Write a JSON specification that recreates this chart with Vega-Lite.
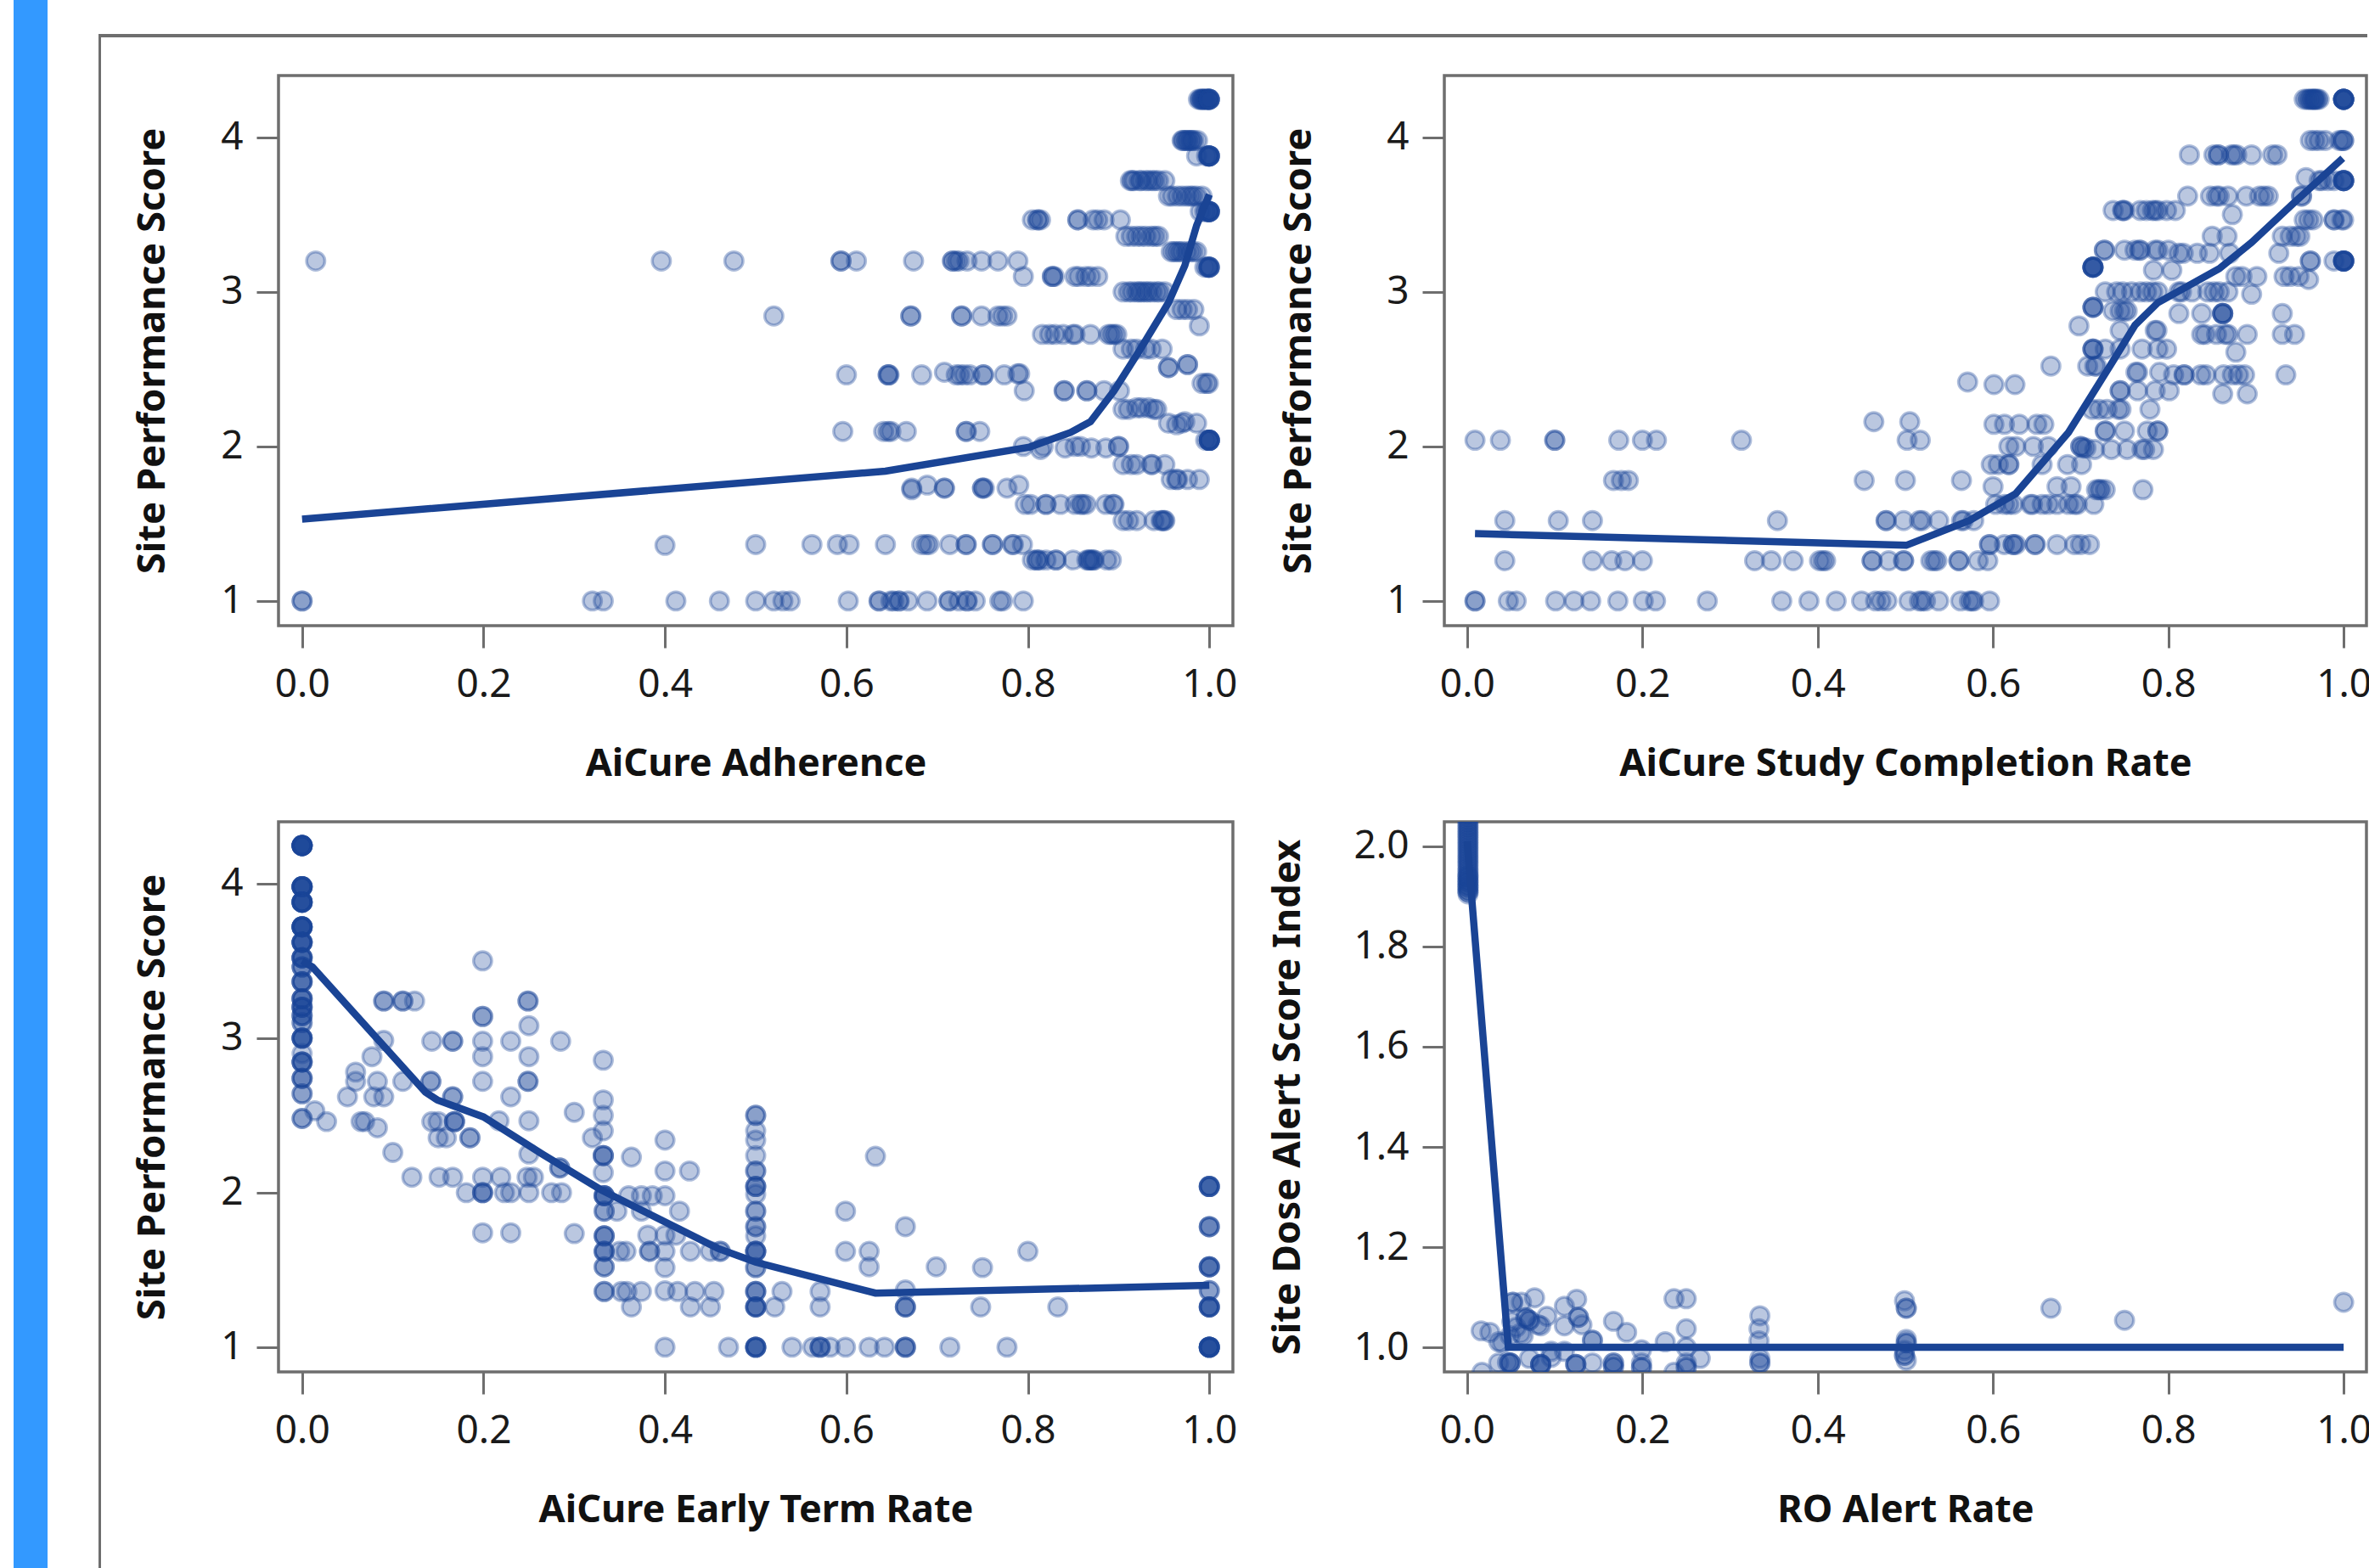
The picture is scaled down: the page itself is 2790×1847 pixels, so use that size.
{"$schema":"https://vega.github.io/schema/vega-lite/v6.json","padding":0,"background":"white","spacing":0,
"config":{"view":{"stroke":"#6e6e6e","strokeWidth":3.5},"font":"Noto Sans",
"axis":{"grid":false,"domain":false,"tickColor":"#6e6e6e","tickWidth":3,"tickSize":26,"labelFont":"Noto Sans","labelFontSize":46,"labelColor":"#1a1a1a","titleFont":"Noto Sans","titleFontWeight":"bold","titleColor":"#111111"}},
"datasets":{
"a":[{"x":0.988,"y":4.246},{"x":0.99,"y":4.246},{"x":0.991,"y":4.246},{"x":0.992,"y":4.246},{"x":0.993,"y":4.246},{"x":0.994,"y":4.246},{"x":0.995,"y":4.246},{"x":0.996,"y":4.246},{"x":0.997,"y":4.246},{"x":0.998,"y":4.246},{"x":0.999,"y":4.246},{"x":1,"y":4.246},{"x":1,"y":4.246},{"x":1,"y":4.246},{"x":1,"y":4.246},{"x":1,"y":4.246},
{"x":0.97,"y":3.98},{"x":0.971,"y":3.98},{"x":0.973,"y":3.98},{"x":0.975,"y":3.98},{"x":0.976,"y":3.98},{"x":0.978,"y":3.98},{"x":0.98,"y":3.98},{"x":0.981,"y":3.98},{"x":0.983,"y":3.98},{"x":0.987,"y":3.98},
{"x":0.986,"y":3.88},{"x":0.997,"y":3.88},{"x":0.999,"y":3.88},{"x":1,"y":3.88},{"x":1,"y":3.88},{"x":1,"y":3.88},{"x":1,"y":3.88},{"x":1,"y":3.88},{"x":1,"y":3.88},
{"x":0.913,"y":3.72},{"x":0.915,"y":3.72},{"x":0.917,"y":3.72},{"x":0.923,"y":3.72},{"x":0.925,"y":3.72},{"x":0.93,"y":3.72},{"x":0.933,"y":3.72},{"x":0.937,"y":3.72},{"x":0.94,"y":3.72},{"x":0.944,"y":3.72},{"x":0.951,"y":3.72},
{"x":0.955,"y":3.62},{"x":0.959,"y":3.62},{"x":0.965,"y":3.62},{"x":0.97,"y":3.62},{"x":0.975,"y":3.62},{"x":0.979,"y":3.62},{"x":0.982,"y":3.62},{"x":0.986,"y":3.62},{"x":0.992,"y":3.62},
{"x":0.99,"y":3.52},{"x":0.995,"y":3.52},{"x":0.997,"y":3.52},{"x":0.999,"y":3.52},{"x":1,"y":3.52},{"x":1,"y":3.52},{"x":1,"y":3.52},{"x":1,"y":3.52},{"x":1,"y":3.52},{"x":1,"y":3.52},
{"x":0.805,"y":3.466},{"x":0.811,"y":3.466},{"x":0.811,"y":3.466},{"x":0.814,"y":3.466},{"x":0.855,"y":3.466},{"x":0.855,"y":3.466},{"x":0.872,"y":3.466},{"x":0.877,"y":3.466},{"x":0.884,"y":3.466},{"x":0.902,"y":3.466},
{"x":0.908,"y":3.36},{"x":0.914,"y":3.36},{"x":0.92,"y":3.36},{"x":0.925,"y":3.36},{"x":0.93,"y":3.36},{"x":0.936,"y":3.36},{"x":0.94,"y":3.36},{"x":0.944,"y":3.36},
{"x":0.958,"y":3.26},{"x":0.961,"y":3.26},{"x":0.964,"y":3.26},{"x":0.967,"y":3.26},{"x":0.97,"y":3.26},{"x":0.975,"y":3.26},{"x":0.979,"y":3.26},{"x":0.982,"y":3.26},{"x":0.986,"y":3.26},
{"x":0.015,"y":3.2},{"x":0.396,"y":3.2},{"x":0.476,"y":3.2},{"x":0.594,"y":3.2},{"x":0.594,"y":3.2},{"x":0.611,"y":3.2},{"x":0.674,"y":3.2},{"x":0.717,"y":3.2},{"x":0.717,"y":3.2},{"x":0.721,"y":3.2},{"x":0.724,"y":3.2},{"x":0.733,"y":3.2},{"x":0.749,"y":3.2},{"x":0.767,"y":3.2},{"x":0.789,"y":3.2},
{"x":0.995,"y":3.16},{"x":0.998,"y":3.16},{"x":0.999,"y":3.16},{"x":1,"y":3.16},{"x":1,"y":3.16},{"x":1,"y":3.16},{"x":1,"y":3.16},
{"x":0.795,"y":3.1},{"x":0.827,"y":3.1},{"x":0.827,"y":3.1},{"x":0.829,"y":3.1},{"x":0.852,"y":3.1},{"x":0.856,"y":3.1},{"x":0.864,"y":3.1},{"x":0.869,"y":3.1},{"x":0.877,"y":3.1},
{"x":0.905,"y":3},{"x":0.911,"y":3},{"x":0.915,"y":3},{"x":0.92,"y":3},{"x":0.923,"y":3},{"x":0.926,"y":3},{"x":0.93,"y":3},{"x":0.933,"y":3},{"x":0.937,"y":3},{"x":0.942,"y":3},{"x":0.945,"y":3},{"x":0.951,"y":3},
{"x":0.964,"y":2.886},{"x":0.97,"y":2.886},{"x":0.976,"y":2.886},{"x":0.983,"y":2.886},
{"x":0.52,"y":2.844},{"x":0.671,"y":2.844},{"x":0.671,"y":2.844},{"x":0.727,"y":2.844},{"x":0.727,"y":2.844},{"x":0.749,"y":2.844},{"x":0.767,"y":2.844},{"x":0.772,"y":2.844},{"x":0.777,"y":2.844},
{"x":0.989,"y":2.78},
{"x":0.816,"y":2.725},{"x":0.824,"y":2.725},{"x":0.83,"y":2.725},{"x":0.839,"y":2.725},{"x":0.85,"y":2.725},{"x":0.852,"y":2.725},{"x":0.869,"y":2.725},{"x":0.889,"y":2.725},{"x":0.892,"y":2.725},{"x":0.895,"y":2.725},{"x":0.898,"y":2.725},
{"x":0.905,"y":2.63},{"x":0.914,"y":2.63},{"x":0.92,"y":2.63},{"x":0.93,"y":2.63},{"x":0.936,"y":2.63},{"x":0.948,"y":2.63},
{"x":0.955,"y":2.51},{"x":0.955,"y":2.51},{"x":0.976,"y":2.53},{"x":0.976,"y":2.53},
{"x":0.6,"y":2.463},{"x":0.646,"y":2.463},{"x":0.646,"y":2.463},{"x":0.647,"y":2.463},{"x":0.683,"y":2.463},{"x":0.708,"y":2.48},{"x":0.721,"y":2.463},{"x":0.725,"y":2.463},{"x":0.73,"y":2.463},{"x":0.736,"y":2.463},{"x":0.751,"y":2.463},{"x":0.751,"y":2.463},{"x":0.774,"y":2.463},{"x":0.789,"y":2.47},{"x":0.791,"y":2.47},
{"x":0.992,"y":2.408},{"x":0.997,"y":2.408},{"x":0.999,"y":2.408},
{"x":0.796,"y":2.36},{"x":0.84,"y":2.36},{"x":0.84,"y":2.36},{"x":0.865,"y":2.36},{"x":0.865,"y":2.36},{"x":0.884,"y":2.36},{"x":0.901,"y":2.36},
{"x":0.905,"y":2.24},{"x":0.911,"y":2.24},{"x":0.92,"y":2.25},{"x":0.925,"y":2.25},{"x":0.933,"y":2.25},{"x":0.939,"y":2.24},{"x":0.942,"y":2.24},
{"x":0.955,"y":2.15},{"x":0.964,"y":2.14},{"x":0.97,"y":2.15},{"x":0.973,"y":2.16},{"x":0.986,"y":2.15},
{"x":0.596,"y":2.097},{"x":0.641,"y":2.097},{"x":0.646,"y":2.097},{"x":0.649,"y":2.097},{"x":0.666,"y":2.097},{"x":0.732,"y":2.097},{"x":0.732,"y":2.097},{"x":0.747,"y":2.097},
{"x":0.996,"y":2.04},{"x":1,"y":2.04},{"x":1,"y":2.04},{"x":1,"y":2.04},{"x":1,"y":2.04},{"x":1,"y":2.04},{"x":1,"y":2.04},{"x":1,"y":2.04},
{"x":0.795,"y":2},{"x":0.814,"y":1.98},{"x":0.817,"y":2},{"x":0.841,"y":1.99},{"x":0.852,"y":2},{"x":0.858,"y":2},{"x":0.87,"y":1.99},{"x":0.886,"y":1.99},{"x":0.9,"y":2},{"x":0.9,"y":2},
{"x":0.905,"y":1.883},{"x":0.914,"y":1.883},{"x":0.92,"y":1.883},{"x":0.936,"y":1.883},{"x":0.937,"y":1.883},{"x":0.951,"y":1.883},
{"x":0.958,"y":1.786},{"x":0.964,"y":1.786},{"x":0.965,"y":1.786},{"x":0.976,"y":1.786},{"x":0.989,"y":1.786},
{"x":0.672,"y":1.73},{"x":0.672,"y":1.72},{"x":0.689,"y":1.75},{"x":0.708,"y":1.73},{"x":0.708,"y":1.73},{"x":0.75,"y":1.73},{"x":0.75,"y":1.73},{"x":0.752,"y":1.73},{"x":0.777,"y":1.73},{"x":0.79,"y":1.75},
{"x":0.797,"y":1.625},{"x":0.803,"y":1.625},{"x":0.82,"y":1.625},{"x":0.82,"y":1.625},{"x":0.836,"y":1.625},{"x":0.852,"y":1.625},{"x":0.858,"y":1.625},{"x":0.86,"y":1.625},{"x":0.864,"y":1.625},{"x":0.886,"y":1.625},{"x":0.894,"y":1.625},{"x":0.895,"y":1.625},
{"x":0.905,"y":1.52},{"x":0.911,"y":1.52},{"x":0.92,"y":1.52},{"x":0.939,"y":1.52},{"x":0.947,"y":1.52},{"x":0.948,"y":1.52},{"x":0.95,"y":1.52},{"x":0.951,"y":1.52},
{"x":0.4,"y":1.36},{"x":0.5,"y":1.365},{"x":0.562,"y":1.365},{"x":0.59,"y":1.365},{"x":0.603,"y":1.365},{"x":0.643,"y":1.365},{"x":0.683,"y":1.365},{"x":0.688,"y":1.365},{"x":0.691,"y":1.365},{"x":0.714,"y":1.365},{"x":0.732,"y":1.365},{"x":0.732,"y":1.365},{"x":0.761,"y":1.365},{"x":0.761,"y":1.365},{"x":0.783,"y":1.365},{"x":0.784,"y":1.365},{"x":0.794,"y":1.365},
{"x":0.805,"y":1.265},{"x":0.81,"y":1.265},{"x":0.81,"y":1.265},{"x":0.813,"y":1.265},{"x":0.82,"y":1.265},{"x":0.831,"y":1.265},{"x":0.831,"y":1.265},{"x":0.85,"y":1.265},{"x":0.865,"y":1.265},{"x":0.867,"y":1.265},{"x":0.868,"y":1.265},{"x":0.87,"y":1.265},{"x":0.872,"y":1.265},{"x":0.873,"y":1.265},{"x":0.887,"y":1.265},{"x":0.892,"y":1.265},
{"x":0,"y":1},{"x":0,"y":1},{"x":0.32,"y":1},{"x":0.332,"y":1},{"x":0.412,"y":1},{"x":0.46,"y":1},{"x":0.5,"y":1},{"x":0.52,"y":1},{"x":0.53,"y":1},{"x":0.538,"y":1},{"x":0.602,"y":1},{"x":0.636,"y":1},{"x":0.636,"y":1},{"x":0.649,"y":1},{"x":0.652,"y":1},{"x":0.658,"y":1},{"x":0.658,"y":1},{"x":0.668,"y":1},{"x":0.689,"y":1},{"x":0.713,"y":1},{"x":0.713,"y":1},{"x":0.724,"y":1},{"x":0.733,"y":1},{"x":0.733,"y":1},{"x":0.742,"y":1},{"x":0.769,"y":1},{"x":0.772,"y":1},{"x":0.795,"y":1}],
"af":[{"x":0,"y":1.53},{"x":0.643,"y":1.84},{"x":0.802,"y":1.996},{"x":0.847,"y":2.09},{"x":0.869,"y":2.16},{"x":0.895,"y":2.36},{"x":0.923,"y":2.62},{"x":0.955,"y":2.93},{"x":0.973,"y":3.17},{"x":0.986,"y":3.43},{"x":1,"y":3.63}],
"b":[{"x":0.955,"y":4.246},{"x":0.958,"y":4.246},{"x":0.96,"y":4.246},{"x":0.962,"y":4.246},{"x":0.963,"y":4.246},{"x":0.965,"y":4.246},{"x":0.966,"y":4.246},{"x":0.967,"y":4.246},{"x":0.968,"y":4.246},{"x":0.97,"y":4.246},{"x":0.972,"y":4.246},{"x":1,"y":4.246},{"x":1,"y":4.246},{"x":1,"y":4.246},{"x":1,"y":4.246},{"x":1,"y":4.246},{"x":1,"y":4.246},{"x":1,"y":4.246},{"x":1,"y":4.246},
{"x":0.962,"y":3.98},{"x":0.967,"y":3.98},{"x":0.972,"y":3.98},{"x":0.979,"y":3.98},{"x":0.995,"y":3.98},{"x":0.998,"y":3.98},{"x":1,"y":3.98},{"x":1,"y":3.98},
{"x":0.824,"y":3.887},{"x":0.852,"y":3.887},{"x":0.857,"y":3.887},{"x":0.857,"y":3.887},{"x":0.872,"y":3.887},{"x":0.875,"y":3.887},{"x":0.878,"y":3.887},{"x":0.895,"y":3.887},{"x":0.919,"y":3.887},{"x":0.924,"y":3.887},
{"x":0.957,"y":3.74},{"x":0.972,"y":3.72},{"x":0.975,"y":3.72},{"x":0.982,"y":3.72},{"x":0.989,"y":3.72},{"x":1,"y":3.72},{"x":1,"y":3.72},{"x":1,"y":3.72},{"x":1,"y":3.72},{"x":1,"y":3.72},{"x":1,"y":3.72},
{"x":0.822,"y":3.62},{"x":0.848,"y":3.62},{"x":0.855,"y":3.62},{"x":0.858,"y":3.62},{"x":0.868,"y":3.62},{"x":0.889,"y":3.62},{"x":0.904,"y":3.62},{"x":0.909,"y":3.62},{"x":0.914,"y":3.62},{"x":0.952,"y":3.62},{"x":0.952,"y":3.62},
{"x":0.737,"y":3.527},{"x":0.748,"y":3.527},{"x":0.748,"y":3.527},{"x":0.75,"y":3.527},{"x":0.768,"y":3.527},{"x":0.775,"y":3.527},{"x":0.782,"y":3.527},{"x":0.785,"y":3.527},{"x":0.788,"y":3.527},{"x":0.798,"y":3.527},{"x":0.808,"y":3.527},
{"x":0.873,"y":3.5},
{"x":0.955,"y":3.466},{"x":0.96,"y":3.466},{"x":0.965,"y":3.466},{"x":0.989,"y":3.466},{"x":0.989,"y":3.466},{"x":0.998,"y":3.466},{"x":1,"y":3.466},
{"x":0.85,"y":3.36},{"x":0.867,"y":3.36},{"x":0.93,"y":3.36},{"x":0.939,"y":3.36},{"x":0.946,"y":3.36},{"x":0.95,"y":3.36},
{"x":0.727,"y":3.27},{"x":0.727,"y":3.27},{"x":0.75,"y":3.27},{"x":0.762,"y":3.27},{"x":0.767,"y":3.27},{"x":0.768,"y":3.27},{"x":0.785,"y":3.27},{"x":0.788,"y":3.27},{"x":0.8,"y":3.27},{"x":0.812,"y":3.25},{"x":0.817,"y":3.25},
{"x":0.833,"y":3.25},{"x":0.847,"y":3.25},{"x":0.87,"y":3.25},{"x":0.926,"y":3.25},
{"x":0.962,"y":3.2},{"x":0.962,"y":3.2},{"x":0.989,"y":3.2},{"x":1,"y":3.2},{"x":1,"y":3.2},{"x":1,"y":3.2},{"x":1,"y":3.2},{"x":1,"y":3.2},{"x":1,"y":3.2},{"x":1,"y":3.2},
{"x":0.714,"y":3.16},{"x":0.714,"y":3.16},{"x":0.714,"y":3.16},{"x":0.714,"y":3.16},{"x":0.714,"y":3.16},{"x":0.714,"y":3.16},
{"x":0.783,"y":3.14},{"x":0.804,"y":3.14},
{"x":0.877,"y":3.1},{"x":0.884,"y":3.1},{"x":0.901,"y":3.1},{"x":0.932,"y":3.1},{"x":0.939,"y":3.1},{"x":0.949,"y":3.1},{"x":0.96,"y":3.08},
{"x":0.728,"y":3},{"x":0.741,"y":3},{"x":0.748,"y":3},{"x":0.758,"y":3},{"x":0.768,"y":3},{"x":0.775,"y":3},{"x":0.782,"y":3},{"x":0.788,"y":3},{"x":0.812,"y":3},{"x":0.815,"y":3},{"x":0.827,"y":3},{"x":0.845,"y":3},{"x":0.852,"y":3},{"x":0.858,"y":3},{"x":0.868,"y":3},{"x":0.895,"y":2.985},
{"x":0.714,"y":2.9},{"x":0.714,"y":2.9},{"x":0.714,"y":2.9},
{"x":0.737,"y":2.877},{"x":0.745,"y":2.877},{"x":0.75,"y":2.877},{"x":0.753,"y":2.877},
{"x":0.812,"y":2.86},{"x":0.838,"y":2.86},{"x":0.862,"y":2.86},{"x":0.862,"y":2.86},{"x":0.862,"y":2.86},{"x":0.862,"y":2.86},{"x":0.93,"y":2.86},
{"x":0.698,"y":2.78},{"x":0.745,"y":2.75},{"x":0.785,"y":2.75},{"x":0.787,"y":2.75},
{"x":0.838,"y":2.725},{"x":0.842,"y":2.725},{"x":0.855,"y":2.725},{"x":0.865,"y":2.725},{"x":0.868,"y":2.725},{"x":0.89,"y":2.725},{"x":0.93,"y":2.725},{"x":0.944,"y":2.725},
{"x":0.714,"y":2.63},{"x":0.714,"y":2.63},{"x":0.714,"y":2.63},{"x":0.728,"y":2.63},{"x":0.745,"y":2.63},{"x":0.77,"y":2.63},{"x":0.788,"y":2.63},{"x":0.798,"y":2.63},{"x":0.877,"y":2.61},
{"x":0.666,"y":2.52},{"x":0.708,"y":2.52},{"x":0.716,"y":2.52},{"x":0.718,"y":2.52},
{"x":0.763,"y":2.48},{"x":0.765,"y":2.48},{"x":0.79,"y":2.48},
{"x":0.806,"y":2.463},{"x":0.818,"y":2.463},{"x":0.818,"y":2.463},{"x":0.837,"y":2.463},{"x":0.843,"y":2.463},{"x":0.863,"y":2.463},{"x":0.873,"y":2.463},{"x":0.88,"y":2.463},{"x":0.887,"y":2.463},{"x":0.934,"y":2.463},
{"x":0.571,"y":2.417},{"x":0.601,"y":2.4},{"x":0.625,"y":2.4},
{"x":0.745,"y":2.36},{"x":0.745,"y":2.36},{"x":0.765,"y":2.36},{"x":0.785,"y":2.36},{"x":0.801,"y":2.36},{"x":0.862,"y":2.34},{"x":0.89,"y":2.34},
{"x":0.713,"y":2.24},{"x":0.721,"y":2.24},{"x":0.73,"y":2.24},{"x":0.743,"y":2.24},{"x":0.746,"y":2.24},{"x":0.779,"y":2.24},
{"x":0.464,"y":2.16},{"x":0.505,"y":2.16},
{"x":0.601,"y":2.143},{"x":0.613,"y":2.143},{"x":0.63,"y":2.143},{"x":0.65,"y":2.143},{"x":0.658,"y":2.143},
{"x":0.728,"y":2.1},{"x":0.728,"y":2.1},{"x":0.75,"y":2.1},{"x":0.776,"y":2.1},{"x":0.788,"y":2.1},{"x":0.788,"y":2.1},
{"x":0.009,"y":2.04},{"x":0.038,"y":2.04},{"x":0.1,"y":2.04},{"x":0.1,"y":2.04},{"x":0.173,"y":2.04},{"x":0.2,"y":2.04},{"x":0.216,"y":2.04},{"x":0.313,"y":2.04},{"x":0.502,"y":2.04},{"x":0.517,"y":2.04},
{"x":0.618,"y":2},{"x":0.626,"y":2},{"x":0.646,"y":2},{"x":0.663,"y":2},
{"x":0.7,"y":2},{"x":0.7,"y":2},{"x":0.703,"y":1.99},{"x":0.706,"y":1.99},{"x":0.716,"y":1.98},{"x":0.735,"y":1.98},{"x":0.753,"y":1.98},{"x":0.77,"y":1.98},{"x":0.773,"y":1.98},{"x":0.783,"y":1.98},
{"x":0.598,"y":1.883},{"x":0.606,"y":1.883},{"x":0.618,"y":1.883},{"x":0.618,"y":1.883},{"x":0.656,"y":1.883},{"x":0.685,"y":1.883},{"x":0.701,"y":1.883},
{"x":0.167,"y":1.78},{"x":0.176,"y":1.78},{"x":0.184,"y":1.78},{"x":0.453,"y":1.78},{"x":0.5,"y":1.78},{"x":0.564,"y":1.78},
{"x":0.6,"y":1.74},{"x":0.673,"y":1.74},{"x":0.689,"y":1.74},
{"x":0.718,"y":1.72},{"x":0.721,"y":1.72},{"x":0.723,"y":1.72},{"x":0.728,"y":1.72},{"x":0.771,"y":1.72},
{"x":0.603,"y":1.625},{"x":0.613,"y":1.625},{"x":0.618,"y":1.625},{"x":0.623,"y":1.625},{"x":0.643,"y":1.625},{"x":0.645,"y":1.625},{"x":0.656,"y":1.625},{"x":0.663,"y":1.625},{"x":0.673,"y":1.625},{"x":0.686,"y":1.625},{"x":0.693,"y":1.625},{"x":0.696,"y":1.625},{"x":0.715,"y":1.625},
{"x":0.043,"y":1.52},{"x":0.104,"y":1.52},{"x":0.143,"y":1.52},{"x":0.354,"y":1.52},{"x":0.478,"y":1.52},{"x":0.478,"y":1.52},{"x":0.498,"y":1.52},{"x":0.516,"y":1.52},{"x":0.519,"y":1.52},{"x":0.538,"y":1.52},{"x":0.564,"y":1.52},{"x":0.566,"y":1.52},{"x":0.578,"y":1.52},
{"x":0.596,"y":1.365},{"x":0.596,"y":1.365},{"x":0.613,"y":1.365},{"x":0.623,"y":1.365},{"x":0.623,"y":1.365},{"x":0.626,"y":1.365},{"x":0.648,"y":1.365},{"x":0.648,"y":1.365},{"x":0.673,"y":1.365},{"x":0.693,"y":1.365},{"x":0.7,"y":1.365},{"x":0.71,"y":1.365},
{"x":0.043,"y":1.26},{"x":0.143,"y":1.26},{"x":0.165,"y":1.26},{"x":0.18,"y":1.26},{"x":0.2,"y":1.26},{"x":0.328,"y":1.26},{"x":0.347,"y":1.26},{"x":0.372,"y":1.26},{"x":0.402,"y":1.26},{"x":0.406,"y":1.26},{"x":0.409,"y":1.26},{"x":0.462,"y":1.26},{"x":0.462,"y":1.26},{"x":0.481,"y":1.26},{"x":0.498,"y":1.26},{"x":0.498,"y":1.26},{"x":0.529,"y":1.26},{"x":0.533,"y":1.26},{"x":0.536,"y":1.26},{"x":0.561,"y":1.26},{"x":0.561,"y":1.26},{"x":0.583,"y":1.26},{"x":0.594,"y":1.26},
{"x":0.009,"y":1},{"x":0.009,"y":1},{"x":0.047,"y":1},{"x":0.056,"y":1},{"x":0.101,"y":1},{"x":0.122,"y":1},{"x":0.141,"y":1},{"x":0.172,"y":1},{"x":0.201,"y":1},{"x":0.215,"y":1},{"x":0.274,"y":1},{"x":0.359,"y":1},{"x":0.39,"y":1},{"x":0.421,"y":1},{"x":0.45,"y":1},{"x":0.466,"y":1},{"x":0.472,"y":1},{"x":0.479,"y":1},{"x":0.504,"y":1},{"x":0.516,"y":1},{"x":0.519,"y":1},{"x":0.523,"y":1},{"x":0.538,"y":1},{"x":0.563,"y":1},{"x":0.573,"y":1},{"x":0.576,"y":1},{"x":0.578,"y":1},{"x":0.596,"y":1}],
"bf":[{"x":0.009,"y":1.436},{"x":0.501,"y":1.36},{"x":0.573,"y":1.52},{"x":0.626,"y":1.695},{"x":0.686,"y":2.09},{"x":0.736,"y":2.545},{"x":0.762,"y":2.785},{"x":0.788,"y":2.93},{"x":0.858,"y":3.15},{"x":0.895,"y":3.32},{"x":0.942,"y":3.57},{"x":0.999,"y":3.865}],
"c":[{"x":0,"y":4.246},{"x":0,"y":4.246},{"x":0,"y":4.246},{"x":0,"y":4.246},{"x":0,"y":4.246},{"x":0,"y":4.246},{"x":0,"y":4.246},{"x":0,"y":4.246},{"x":0,"y":4.246},{"x":0,"y":4.246},{"x":0,"y":3.98},{"x":0,"y":3.98},{"x":0,"y":3.98},{"x":0,"y":3.98},{"x":0,"y":3.98},{"x":0,"y":3.98},{"x":0,"y":3.98},{"x":0,"y":3.98},{"x":0,"y":3.88},{"x":0,"y":3.88},{"x":0,"y":3.88},{"x":0,"y":3.88},{"x":0,"y":3.88},{"x":0,"y":3.88},{"x":0,"y":3.88},{"x":0,"y":3.88},{"x":0,"y":3.72},{"x":0,"y":3.72},{"x":0,"y":3.72},{"x":0,"y":3.72},{"x":0,"y":3.72},{"x":0,"y":3.72},{"x":0,"y":3.72},{"x":0,"y":3.72},{"x":0,"y":3.62},{"x":0,"y":3.62},{"x":0,"y":3.62},{"x":0,"y":3.62},{"x":0,"y":3.62},{"x":0,"y":3.62},{"x":0,"y":3.52},{"x":0,"y":3.52},{"x":0,"y":3.52},{"x":0,"y":3.52},{"x":0,"y":3.52},{"x":0,"y":3.46},{"x":0,"y":3.46},{"x":0,"y":3.46},{"x":0,"y":3.365},{"x":0,"y":3.365},{"x":0,"y":3.365},{"x":0,"y":3.365},{"x":0,"y":3.255},{"x":0,"y":3.255},{"x":0,"y":3.255},{"x":0,"y":3.255},{"x":0,"y":3.2},{"x":0,"y":3.2},{"x":0,"y":3.2},{"x":0,"y":3.2},{"x":0,"y":3.145},{"x":0,"y":3.145},{"x":0,"y":3.145},{"x":0,"y":3.1},{"x":0,"y":3.1},{"x":0,"y":3},{"x":0,"y":3},{"x":0,"y":3},{"x":0,"y":3},{"x":0,"y":3},{"x":0,"y":2.9},{"x":0,"y":2.845},{"x":0,"y":2.845},{"x":0,"y":2.845},{"x":0,"y":2.845},{"x":0,"y":2.74},{"x":0,"y":2.74},{"x":0,"y":2.74},{"x":0,"y":2.64},{"x":0,"y":2.64},{"x":0,"y":2.48},{"x":0,"y":2.48},
{"x":0.199,"y":3.5},{"x":0.09,"y":3.24},{"x":0.09,"y":3.24},{"x":0.111,"y":3.24},{"x":0.111,"y":3.24},{"x":0.124,"y":3.24},{"x":0.249,"y":3.24},{"x":0.249,"y":3.24},{"x":0.199,"y":3.14},{"x":0.199,"y":3.14},{"x":0.25,"y":3.08},{"x":0.09,"y":2.985},{"x":0.143,"y":2.98},{"x":0.166,"y":2.98},{"x":0.166,"y":2.98},{"x":0.199,"y":2.98},{"x":0.23,"y":2.98},{"x":0.285,"y":2.98},{"x":0.077,"y":2.88},{"x":0.199,"y":2.88},{"x":0.25,"y":2.88},{"x":0.332,"y":2.857},{"x":0.059,"y":2.78},{"x":0.059,"y":2.72},{"x":0.083,"y":2.72},{"x":0.111,"y":2.72},{"x":0.142,"y":2.72},{"x":0.142,"y":2.72},{"x":0.199,"y":2.72},{"x":0.249,"y":2.72},{"x":0.249,"y":2.72},{"x":0.05,"y":2.62},{"x":0.079,"y":2.62},{"x":0.09,"y":2.62},{"x":0.166,"y":2.62},{"x":0.166,"y":2.62},{"x":0.23,"y":2.62},{"x":0.332,"y":2.6},
{"x":0.014,"y":2.53},{"x":0.027,"y":2.46},{"x":0.065,"y":2.46},{"x":0.069,"y":2.46},{"x":0.083,"y":2.42},{"x":0.1,"y":2.26},{"x":0.121,"y":2.1},{"x":0.143,"y":2.46},{"x":0.15,"y":2.46},{"x":0.168,"y":2.46},{"x":0.168,"y":2.46},{"x":0.168,"y":2.46},{"x":0.15,"y":2.355},{"x":0.159,"y":2.355},{"x":0.185,"y":2.355},{"x":0.185,"y":2.355},{"x":0.217,"y":2.465},{"x":0.25,"y":2.465},{"x":0.25,"y":2.25},{"x":0.3,"y":2.52},{"x":0.332,"y":2.5},{"x":0.332,"y":2.4},{"x":0.32,"y":2.355},{"x":0.332,"y":2.24},{"x":0.332,"y":2.24},{"x":0.332,"y":2.24},{"x":0.363,"y":2.23},{"x":0.4,"y":2.34},{"x":0.332,"y":2.13},{"x":0.4,"y":2.14},{"x":0.427,"y":2.14},{"x":0.284,"y":2.16},{"x":0.284,"y":2.16},{"x":0.151,"y":2.1},{"x":0.166,"y":2.1},{"x":0.199,"y":2.1},{"x":0.219,"y":2.1},{"x":0.248,"y":2.1},{"x":0.255,"y":2.1},
{"x":0.181,"y":2},{"x":0.199,"y":2},{"x":0.199,"y":2},{"x":0.199,"y":2},{"x":0.223,"y":2},{"x":0.23,"y":2},{"x":0.25,"y":2},{"x":0.275,"y":2},{"x":0.286,"y":2},{"x":0.199,"y":1.74},{"x":0.23,"y":1.74},{"x":0.3,"y":1.735},
{"x":0.333,"y":1.98},{"x":0.333,"y":1.98},{"x":0.333,"y":1.98},{"x":0.333,"y":1.98},{"x":0.36,"y":1.98},{"x":0.374,"y":1.98},{"x":0.386,"y":1.98},{"x":0.4,"y":1.98},{"x":0.333,"y":1.88},{"x":0.333,"y":1.88},{"x":0.347,"y":1.88},{"x":0.374,"y":1.88},{"x":0.416,"y":1.88},{"x":0.333,"y":1.72},{"x":0.333,"y":1.72},{"x":0.333,"y":1.72},{"x":0.381,"y":1.725},{"x":0.4,"y":1.725},{"x":0.412,"y":1.725},{"x":0.333,"y":1.62},{"x":0.333,"y":1.62},{"x":0.333,"y":1.62},{"x":0.35,"y":1.62},{"x":0.357,"y":1.62},{"x":0.383,"y":1.62},{"x":0.383,"y":1.62},{"x":0.4,"y":1.62},{"x":0.428,"y":1.62},{"x":0.45,"y":1.62},{"x":0.461,"y":1.62},{"x":0.461,"y":1.62},{"x":0.333,"y":1.52},{"x":0.333,"y":1.52},{"x":0.4,"y":1.515},{"x":0.333,"y":1.36},{"x":0.333,"y":1.36},{"x":0.352,"y":1.36},{"x":0.358,"y":1.36},{"x":0.374,"y":1.36},{"x":0.4,"y":1.365},{"x":0.414,"y":1.36},{"x":0.433,"y":1.36},{"x":0.454,"y":1.36},{"x":0.363,"y":1.26},{"x":0.428,"y":1.26},{"x":0.45,"y":1.26},
{"x":0.4,"y":1},{"x":0.47,"y":1},{"x":0.54,"y":1},{"x":0.563,"y":1},{"x":0.571,"y":1},{"x":0.571,"y":1},{"x":0.571,"y":1},{"x":0.582,"y":1},{"x":0.599,"y":1},{"x":0.625,"y":1},{"x":0.642,"y":1},{"x":0.665,"y":1},{"x":0.665,"y":1},{"x":0.665,"y":1},{"x":0.714,"y":1},{"x":0.777,"y":1},
{"x":0.5,"y":2.5},{"x":0.5,"y":2.5},{"x":0.5,"y":2.4},{"x":0.5,"y":2.34},{"x":0.5,"y":2.24},{"x":0.5,"y":2.14},{"x":0.5,"y":2.14},{"x":0.5,"y":2.04},{"x":0.5,"y":2.04},{"x":0.5,"y":2.04},{"x":0.5,"y":1.99},{"x":0.5,"y":1.88},{"x":0.5,"y":1.88},{"x":0.5,"y":1.78},{"x":0.5,"y":1.78},{"x":0.5,"y":1.72},{"x":0.5,"y":1.62},{"x":0.5,"y":1.62},{"x":0.5,"y":1.62},{"x":0.5,"y":1.62},{"x":0.5,"y":1.515},{"x":0.5,"y":1.515},{"x":0.5,"y":1.36},{"x":0.5,"y":1.36},{"x":0.5,"y":1.36},{"x":0.5,"y":1.26},{"x":0.5,"y":1.26},{"x":0.5,"y":1.26},{"x":0.5,"y":1.26},{"x":0.5,"y":1},{"x":0.5,"y":1},{"x":0.5,"y":1},{"x":0.5,"y":1},{"x":0.5,"y":1},
{"x":0.529,"y":1.36},{"x":0.521,"y":1.26},{"x":0.571,"y":1.36},{"x":0.571,"y":1.26},{"x":0.599,"y":1.88},{"x":0.599,"y":1.62},{"x":0.625,"y":1.62},{"x":0.625,"y":1.52},{"x":0.632,"y":2.235},{"x":0.665,"y":1.78},{"x":0.699,"y":1.52},{"x":0.75,"y":1.515},{"x":0.665,"y":1.37},{"x":0.665,"y":1.26},{"x":0.665,"y":1.26},{"x":0.665,"y":1.26},{"x":0.748,"y":1.26},{"x":0.8,"y":1.62},{"x":0.833,"y":1.26},
{"x":1,"y":2.04},{"x":1,"y":2.04},{"x":1,"y":2.04},{"x":1,"y":2.04},{"x":1,"y":2.04},{"x":1,"y":1.78},{"x":1,"y":1.78},{"x":1,"y":1.78},{"x":1,"y":1.52},{"x":1,"y":1.52},{"x":1,"y":1.52},{"x":1,"y":1.52},{"x":1,"y":1.366},{"x":1,"y":1.366},{"x":1,"y":1.26},{"x":1,"y":1.26},{"x":1,"y":1.26},{"x":1,"y":1.26},{"x":1,"y":1.26},{"x":1,"y":1},{"x":1,"y":1},{"x":1,"y":1},{"x":1,"y":1},{"x":1,"y":1},{"x":1,"y":1},{"x":1,"y":1},{"x":1,"y":1}],
"cf":[{"x":0,"y":3.5},{"x":0.0115,"y":3.46},{"x":0.136,"y":2.65},{"x":0.149,"y":2.6},{"x":0.2,"y":2.49},{"x":0.265,"y":2.248},{"x":0.329,"y":2.02},{"x":0.458,"y":1.64},{"x":0.5,"y":1.55},{"x":0.632,"y":1.35},{"x":1,"y":1.4}],
"d":[{"x":0.001,"y":1.905},{"x":0.001,"y":1.91},{"x":0.001,"y":1.915},{"x":0.001,"y":1.92},{"x":0.001,"y":1.925},{"x":0.001,"y":1.93},{"x":0.001,"y":1.935},{"x":0.001,"y":1.94},{"x":0.001,"y":1.945},{"x":0.001,"y":1.95},{"x":0.001,"y":1.955},{"x":0.001,"y":1.96},{"x":0.001,"y":1.965},{"x":0.001,"y":1.97},{"x":0.001,"y":1.975},{"x":0.001,"y":1.98},{"x":0.001,"y":1.985},{"x":0.001,"y":1.99},{"x":0.001,"y":1.995},{"x":0.001,"y":2},{"x":0.001,"y":2.005},{"x":0.001,"y":2.01},{"x":0.001,"y":2.015},{"x":0.001,"y":2.02},{"x":0.001,"y":2.025},{"x":0.001,"y":2.03},{"x":0.001,"y":2.035},{"x":0.001,"y":2.04},{"x":0.001,"y":2.045},{"x":0.001,"y":2.05},{"x":0.001,"y":2.055},{"x":0.001,"y":2.06},{"x":0.001,"y":2.065},{"x":0.001,"y":2.07},{"x":0.001,"y":2.075},{"x":0.001,"y":2.08},{"x":0.001,"y":1.91},{"x":0.001,"y":1.92},{"x":0.001,"y":1.93},{"x":0.001,"y":1.94},
{"x":0.016,"y":1.033},{"x":0.026,"y":1.03},{"x":0.036,"y":1.011},{"x":0.04,"y":1.009},{"x":0.052,"y":1.09},{"x":0.052,"y":1.09},{"x":0.062,"y":1.09},{"x":0.077,"y":1.099},{"x":0.111,"y":1.082},{"x":0.125,"y":1.096},{"x":0.051,"y":1.051},{"x":0.067,"y":1.059},{"x":0.067,"y":1.059},{"x":0.071,"y":1.054},{"x":0.071,"y":1.054},{"x":0.081,"y":1.045},{"x":0.091,"y":1.062},{"x":0.061,"y":1.028},{"x":0.056,"y":1.04},{"x":0.084,"y":1.043},{"x":0.064,"y":1.023},{"x":0.049,"y":1.023},{"x":0.111,"y":1.043},{"x":0.127,"y":1.06},{"x":0.127,"y":1.06},{"x":0.131,"y":1.045},{"x":0.143,"y":1.014},{"x":0.143,"y":1.014},{"x":0.167,"y":1.052},{"x":0.182,"y":1.03},{"x":0.226,"y":1.011},{"x":0.236,"y":1.097},{"x":0.25,"y":1.097},{"x":0.25,"y":1.037},{"x":0.25,"y":1},{"x":0.199,"y":0.995},{"x":0.096,"y":0.992},{"x":0.111,"y":0.992},
{"x":0.036,"y":0.969},{"x":0.049,"y":0.969},{"x":0.049,"y":0.969},{"x":0.049,"y":0.969},{"x":0.046,"y":0.97},{"x":0.071,"y":0.978},{"x":0.084,"y":0.966},{"x":0.084,"y":0.966},{"x":0.084,"y":0.966},{"x":0.084,"y":0.966},{"x":0.096,"y":0.98},{"x":0.124,"y":0.966},{"x":0.124,"y":0.966},{"x":0.124,"y":0.966},{"x":0.143,"y":0.969},{"x":0.167,"y":0.969},{"x":0.167,"y":0.969},{"x":0.167,"y":0.961},{"x":0.167,"y":0.961},{"x":0.199,"y":0.969},{"x":0.199,"y":0.96},{"x":0.199,"y":0.96},{"x":0.25,"y":0.969},{"x":0.25,"y":0.96},{"x":0.25,"y":0.96},{"x":0.266,"y":0.978},{"x":0.236,"y":0.95},{"x":0.017,"y":0.95},
{"x":0.334,"y":1.063},{"x":0.333,"y":1.037},{"x":0.333,"y":1.013},{"x":0.334,"y":0.978},{"x":0.334,"y":0.969},{"x":0.334,"y":0.969},
{"x":0.499,"y":1.093},{"x":0.501,"y":1.078},{"x":0.501,"y":1.078},{"x":0.501,"y":1.016},{"x":0.501,"y":1.009},{"x":0.501,"y":1.009},{"x":0.499,"y":0.994},{"x":0.499,"y":0.984},{"x":0.499,"y":0.984},{"x":0.501,"y":0.974},
{"x":0.666,"y":1.078},{"x":0.75,"y":1.054},{"x":1,"y":1.09}],
"df":[{"x":0,"y":2.01},{"x":0.047,"y":1},{"x":1,"y":1}]
},
"hconcat":[
{"data":{"values":[{"k":1}]},"mark":{"type":"rect","opacity":0},"width":16,"height":1847,"view":{"stroke":null}},
{"data":{"values":[{"k":1}]},"mark":{"type":"rect","opacity":0},"width":40,"height":1847,"view":{"stroke":null,"fill":"#3399ff"}},
{"data":{"values":[{"k":1}]},"mark":{"type":"rect","opacity":0},"width":60,"height":10,"view":{"stroke":null}},
{"spacing":0,"vconcat":[
{"data":{"values":[{"k":1}]},"mark":{"type":"rect","opacity":0},"width":10,"height":40,"view":{"stroke":null}},
{"data":{"values":[{"k":1}]},"mark":{"type":"rect","opacity":0},"width":2672,"height":4,"view":{"stroke":null,"fill":"#6e6e6e"}},
{"spacing":36,"hconcat":[
{"data":{"values":[{"k":1}]},"mark":{"type":"rect","opacity":0},"width":3,"height":1803,"view":{"stroke":null,"fill":"#6e6e6e"}},
{"spacing":0,"vconcat":[
{"data":{"values":[{"k":1}]},"mark":{"type":"rect","opacity":0},"width":10,"height":43,"view":{"stroke":null}},
{"columns":2,"bounds":"flush","spacing":{"row":231,"column":249},"concat":[
{"width":1124,"height":648,"layer":[
{"data":{"name":"a"},"mark":{"type":"circle","clip":true,"size":460,"fill":"#1a4699","stroke":"#1a4699","fillOpacity":0.3,"strokeOpacity":0.35,"strokeWidth":3.5},"encoding":{"x":{"field":"x","type":"quantitative","scale":{"domain":[-0.026,1.026],"nice":false,"zero":false},"axis":{"title":"AiCure Adherence","values":[0,0.2,0.4,0.6,0.8,1],"format":".1f","labelPadding":21,"titleFontSize":45,"titleY":140}},"y":{"field":"y","type":"quantitative","scale":{"domain":[0.84,4.4],"nice":false,"zero":false},"axis":{"title":"Site Performance Score","values":[1,2,3,4],"format":"d","labelPadding":16,"titleFontSize":45.4,"titleX":-125}}}},
{"data":{"name":"af"},"mark":{"type":"line","clip":true,"color":"#1a4495","strokeWidth":8.5},"encoding":{"x":{"field":"x","type":"quantitative"},"y":{"field":"y","type":"quantitative"}}}]},
{"width":1086,"height":648,"layer":[
{"data":{"name":"b"},"mark":{"type":"circle","clip":true,"size":460,"fill":"#1a4699","stroke":"#1a4699","fillOpacity":0.3,"strokeOpacity":0.35,"strokeWidth":3.5},"encoding":{"x":{"field":"x","type":"quantitative","scale":{"domain":[-0.026,1.026],"nice":false,"zero":false},"axis":{"title":"AiCure Study Completion Rate","values":[0,0.2,0.4,0.6,0.8,1],"format":".1f","labelPadding":21,"titleFontSize":45,"titleY":140}},"y":{"field":"y","type":"quantitative","scale":{"domain":[0.84,4.4],"nice":false,"zero":false},"axis":{"title":"Site Performance Score","values":[1,2,3,4],"format":"d","labelPadding":16,"titleFontSize":45.4,"titleX":-148}}}},
{"data":{"name":"bf"},"mark":{"type":"line","clip":true,"color":"#1a4495","strokeWidth":8.5},"encoding":{"x":{"field":"x","type":"quantitative"},"y":{"field":"y","type":"quantitative"}}}]},
{"width":1124,"height":648,"layer":[
{"data":{"name":"c"},"mark":{"type":"circle","clip":true,"size":460,"fill":"#1a4699","stroke":"#1a4699","fillOpacity":0.3,"strokeOpacity":0.35,"strokeWidth":3.5},"encoding":{"x":{"field":"x","type":"quantitative","scale":{"domain":[-0.026,1.026],"nice":false,"zero":false},"axis":{"title":"AiCure Early Term Rate","values":[0,0.2,0.4,0.6,0.8,1],"format":".1f","labelPadding":21,"titleFontSize":45,"titleY":140}},"y":{"field":"y","type":"quantitative","scale":{"domain":[0.84,4.4],"nice":false,"zero":false},"axis":{"title":"Site Performance Score","values":[1,2,3,4],"format":"d","labelPadding":16,"titleFontSize":45.4,"titleX":-125}}}},
{"data":{"name":"cf"},"mark":{"type":"line","clip":true,"color":"#1a4495","strokeWidth":8.5},"encoding":{"x":{"field":"x","type":"quantitative"},"y":{"field":"y","type":"quantitative"}}}]},
{"width":1086,"height":648,"layer":[
{"data":{"name":"d"},"mark":{"type":"circle","clip":true,"size":460,"fill":"#1a4699","stroke":"#1a4699","fillOpacity":0.3,"strokeOpacity":0.35,"strokeWidth":3.5},"encoding":{"x":{"field":"x","type":"quantitative","scale":{"domain":[-0.026,1.026],"nice":false,"zero":false},"axis":{"title":"RO Alert Rate","values":[0,0.2,0.4,0.6,0.8,1],"format":".1f","labelPadding":21,"titleFontSize":45,"titleY":140}},"y":{"field":"y","type":"quantitative","scale":{"domain":[0.951,2.049],"nice":false,"zero":false},"axis":{"title":"Site Dose Alert Score Index","values":[1,1.2,1.4,1.6,1.8,2],"format":".1f","labelPadding":16,"titleFontSize":45.4,"titleX":-161}}}},
{"data":{"name":"df"},"mark":{"type":"line","clip":true,"color":"#1a4495","strokeWidth":8.5},"encoding":{"x":{"field":"x","type":"quantitative"},"y":{"field":"y","type":"quantitative"}}}]}
]}
]}
]}
]}
]}
